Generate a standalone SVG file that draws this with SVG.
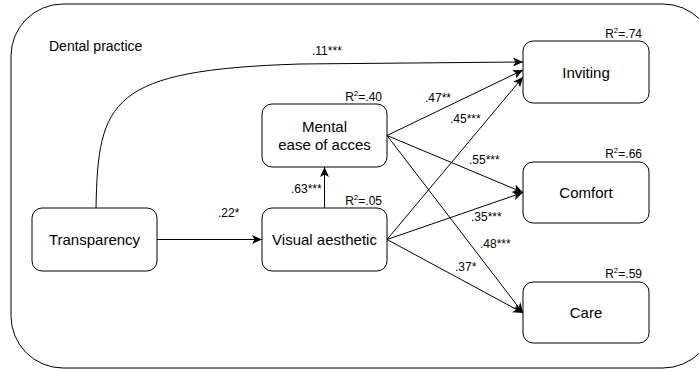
<svg xmlns="http://www.w3.org/2000/svg" width="699" height="370" viewBox="0 0 699 370">
<style>
.node{fill:#fff;stroke:#000;stroke-width:1}
.lbl{font-family:"Liberation Sans",Arial,sans-serif;font-size:15px;fill:#000;text-anchor:middle}
.r2{font-family:"Liberation Sans",Arial,sans-serif;font-size:12px;fill:#000;text-anchor:end}
.sup{font-size:8px}
.el{font-family:"Liberation Sans",Arial,sans-serif;font-size:12px;fill:#000}
.edge{fill:none;stroke:#000;stroke-width:1;marker-end:url(#arr)}
</style>
<defs>
<marker id="arr" markerUnits="userSpaceOnUse" markerWidth="12" markerHeight="10" refX="10" refY="4.5" orient="auto">
<path d="M0,0 L10,4.5 L0,9 L2.5,4.5 Z" fill="#000"/>
</marker>
</defs>
<g id="container">
<rect x="11" y="4" width="704" height="364" rx="52" ry="52" fill="#fff" stroke="#000" stroke-width="1"/>
<text x="49" y="51" font-family="Liberation Sans, Arial, sans-serif" font-size="14" fill="#000">Dental practice</text>
</g>
<g id="connectors">
<path class="edge" d="M96,208 C98,100 110,70 300,64 L523,62"/>
<line class="edge" x1="157" y1="239.5" x2="262" y2="239.5"/>
<line class="edge" x1="324.5" y1="208" x2="324.5" y2="167"/>
<line class="edge" x1="387" y1="135.5" x2="523" y2="70"/>
<line class="edge" x1="387" y1="239.5" x2="523" y2="77"/>
<line class="edge" x1="387" y1="135.5" x2="523" y2="192.5"/>
<line class="edge" x1="387" y1="239.5" x2="523" y2="192.5"/>
<line class="edge" x1="387" y1="135.5" x2="523" y2="313"/>
<line class="edge" x1="387" y1="239.5" x2="523" y2="313"/>
<text class="el" x="312" y="55">.11***</text>
<text class="el" x="218" y="217">.22*</text>
<text class="el" x="291" y="193">.63***</text>
<text class="el" x="425" y="102">.47**</text>
<text class="el" x="450" y="123">.45***</text>
<text class="el" x="469" y="164">.55***</text>
<text class="el" x="471" y="221">.35***</text>
<text class="el" x="480" y="248">.48***</text>
<text class="el" x="455" y="271">.37*</text>
</g>
<g id="transparency">
<rect class="node" x="32" y="208" width="125" height="63" rx="10"/>
<text class="lbl" x="94.5" y="245">Transparency</text>
</g>
<g id="visual">
<rect class="node" x="262" y="208" width="125" height="63" rx="10"/>
<text class="lbl" x="324.5" y="245">Visual aesthetic</text>
<text class="r2" x="382" y="205">R<tspan class="sup" dy="-5">2</tspan><tspan dy="5">=.05</tspan></text>
</g>
<g id="mental">
<rect class="node" x="262" y="104" width="125" height="63" rx="10"/>
<text class="lbl" x="324.5" y="132">Mental</text>
<text class="lbl" x="324.5" y="150">ease of acces</text>
<text class="r2" x="382" y="101">R<tspan class="sup" dy="-5">2</tspan><tspan dy="5">=.40</tspan></text>
</g>
<g id="inviting">
<rect class="node" x="523" y="41" width="126" height="62" rx="10"/>
<text class="lbl" x="586" y="77.5">Inviting</text>
<text class="r2" x="642" y="38">R<tspan class="sup" dy="-5">2</tspan><tspan dy="5">=.74</tspan></text>
</g>
<g id="comfort">
<rect class="node" x="523" y="162" width="126" height="61" rx="10"/>
<text class="lbl" x="586" y="198">Comfort</text>
<text class="r2" x="642" y="158">R<tspan class="sup" dy="-5">2</tspan><tspan dy="5">=.66</tspan></text>
</g>
<g id="care">
<rect class="node" x="523" y="282" width="126" height="61" rx="10"/>
<text class="lbl" x="586" y="318">Care</text>
<text class="r2" x="642" y="278">R<tspan class="sup" dy="-5">2</tspan><tspan dy="5">=.59</tspan></text>
</g>
</svg>
